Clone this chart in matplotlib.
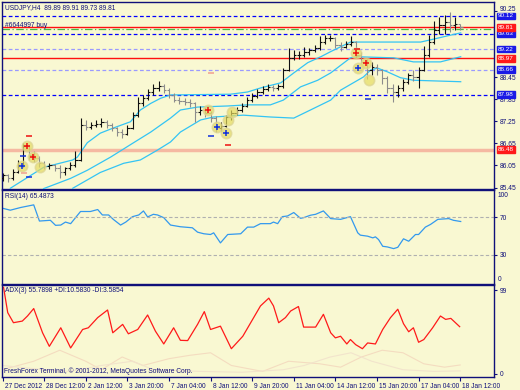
import numpy as np
import matplotlib
matplotlib.use("Agg")
import matplotlib.pyplot as plt
import matplotlib.transforms as mtransforms

plt.rcParams['font.family'] = ['Liberation Sans', 'DejaVu Sans']

# ---- price bars (USDJPY H4), one per 4h bar ----
opens = [85.70, 85.78, 85.70, 85.88, 86.06, 86.58, 86.33, 86.25, 86.11, 86.03,
         86.06, 85.97, 85.86, 85.97, 86.06, 86.20, 87.15, 87.10, 87.15, 87.18,
         87.23, 87.15, 87.07, 86.96, 86.90, 87.07, 87.42, 87.74, 87.88, 88.05,
         88.16, 88.21, 88.10, 87.96, 87.83, 87.80, 87.77, 87.74, 87.50, 87.56,
         87.48, 87.35, 87.07, 87.13, 87.37, 87.48, 87.56, 87.67, 87.83, 87.94,
         88.05, 88.13, 88.19, 88.16, 88.21, 88.65, 88.98, 89.06, 89.06, 89.15,
         89.20, 89.25, 89.41, 89.52, 89.52, 89.33, 89.28, 89.36, 89.41, 89.06,
         88.87, 88.65, 88.73, 88.65, 88.43, 88.16, 88.05, 88.16, 88.32, 88.51,
         88.45, 88.65, 89.06, 89.41, 89.74, 89.87, 89.96, 89.87, 89.89]
highs = [85.85, 85.82, 85.95, 86.20, 86.66, 86.62, 86.45, 86.30, 86.18, 86.12,
         86.10, 86.05, 86.02, 86.15, 86.45, 87.33, 87.29, 87.24, 87.30, 87.33,
         87.28, 87.21, 87.11, 87.04, 87.14, 87.50, 87.92, 87.97, 88.12, 88.27,
         88.35, 88.27, 88.15, 88.02, 87.92, 87.89, 87.85, 87.79, 87.68, 87.64,
         87.53, 87.41, 87.24, 87.43, 87.56, 87.64, 87.75, 87.92, 88.02, 88.12,
         88.22, 88.27, 88.25, 88.27, 88.71, 89.26, 89.18, 89.16, 89.28, 89.26,
         89.33, 89.57, 89.61, 89.59, 89.55, 89.40, 89.43, 89.57, 89.45, 89.14,
         88.96, 88.86, 88.81, 88.68, 88.48, 88.27, 88.25, 88.41, 88.58, 88.66,
         88.73, 89.30, 89.60, 89.99, 90.09, 90.14, 90.22, 90.09, 89.91]
lows = [85.62, 85.60, 85.66, 85.84, 86.00, 86.20, 86.15, 86.02, 85.96, 85.95,
        85.90, 85.70, 85.80, 85.92, 86.00, 86.18, 87.01, 87.04, 87.09, 87.11,
        87.07, 86.99, 86.84, 86.81, 86.87, 87.04, 87.38, 87.67, 87.82, 87.97,
        88.09, 88.02, 87.89, 87.77, 87.72, 87.69, 87.65, 87.23, 87.43, 87.38,
        87.24, 86.97, 86.99, 87.09, 87.30, 87.42, 87.50, 87.63, 87.77, 87.89,
        87.99, 88.07, 88.09, 88.11, 88.17, 88.61, 88.91, 88.94, 89.01, 89.06,
        89.14, 89.20, 89.35, 89.43, 89.25, 89.16, 89.24, 89.30, 88.98, 88.81,
        88.41, 88.51, 88.51, 88.26, 88.02, 87.77, 87.92, 88.07, 88.26, 88.36,
        88.15, 88.61, 89.01, 89.35, 89.64, 89.64, 89.69, 89.74, 89.73]
closes = [85.78, 85.70, 85.88, 86.06, 86.58, 86.33, 86.25, 86.11, 86.03, 86.06,
          85.97, 85.86, 85.97, 86.06, 86.20, 87.15, 87.10, 87.15, 87.18, 87.23,
          87.15, 87.07, 86.96, 86.90, 87.07, 87.42, 87.74, 87.88, 88.05, 88.16,
          88.21, 88.10, 87.96, 87.83, 87.80, 87.77, 87.74, 87.50, 87.56, 87.48,
          87.35, 87.07, 87.13, 87.37, 87.48, 87.56, 87.67, 87.83, 87.94, 88.05,
          88.13, 88.19, 88.16, 88.21, 88.65, 88.98, 89.06, 89.06, 89.15, 89.20,
          89.25, 89.41, 89.52, 89.52, 89.33, 89.28, 89.36, 89.41, 89.06, 88.87,
          88.65, 88.73, 88.65, 88.43, 88.16, 88.05, 88.16, 88.32, 88.51, 88.45,
          88.65, 89.06, 89.41, 89.74, 89.87, 89.96, 89.87, 89.89, 89.81]

# ---- three cyan indicator lines (bar index, price) ----
fast_x = [1.5, 7.9, 13.5, 14.4, 16.3, 18.8, 21.3, 24.6, 26.5, 28.5, 30.4, 32.3, 43.8,
          47.1, 49.6, 53.5, 56.0, 58.7, 61.2, 63.1, 66.9, 80.4, 82.3, 85.6, 88.1]
fast_y = [85.43, 86.00, 86.20, 86.28, 86.67, 86.93, 87.07, 87.24, 87.56, 87.74, 87.88,
          87.97, 87.99, 88.05, 88.16, 88.30, 88.57, 88.85, 89.01, 89.15, 89.41, 89.41,
          89.47, 89.58, 89.66]
mid_x = [7.9, 13.1, 16.3, 20.8, 25.2, 28.5, 30.4, 32.3, 34.2, 37.5, 43.3, 47.1, 51.5,
         54.0, 57.3, 60.6, 63.1, 66.9, 68.3, 75.2, 79.0, 84.2, 88.1]
mid_y = [85.42, 85.70, 85.92, 86.28, 86.67, 86.96, 87.15, 87.34, 87.56, 87.64, 87.67,
         87.70, 87.70, 87.83, 88.19, 88.37, 88.57, 88.98, 89.01, 88.98, 88.87, 88.87, 89.01]
slow_x = [13.5, 18.8, 23.3, 26.5, 29.8, 32.3, 34.2, 38.1, 40.6, 46.3, 51.5, 56.0, 59.2,
          63.1, 65.0, 69.4, 70.8, 72.1, 74.0, 76.5, 79.0, 88.1]
slow_y = [85.43, 85.86, 86.11, 86.20, 86.47, 86.69, 86.96, 87.29, 87.37, 87.42, 87.37,
          87.34, 87.56, 87.83, 88.10, 88.46, 88.65, 88.70, 88.60, 88.44, 88.37, 88.33]

# ---- horizontal levels ----
level_prices = [90.12, 89.63, 89.22, 88.66, 87.98]
level_colors = ['#0000ff', '#0000ff', '#9a9aff', '#9a9aff', '#0000ff']
red_levels = [89.81, 88.97]
order_price = 89.76
support_price = 86.48

# ---- signal icons ----
circle_x = [4.8, 5.8, 3.7, 7.3, 39.6, 41.3, 42.9, 43.3, 44.2, 67.9, 68.3, 69.8, 70.4]
circle_y = [86.58, 86.28, 86.03, 86.01, 87.56, 87.10, 86.93, 87.29, 87.50, 89.11, 88.70, 88.84, 88.38]
cross_red_x = [4.8, 5.8, 39.6, 67.9, 69.8]
cross_red_y = [86.58, 86.28, 87.56, 89.11, 88.84]
cross_blue_x = [3.7, 41.3, 42.9, 68.3]
cross_blue_y = [86.03, 87.10, 86.93, 88.70]
dash_red_x = [5.0, 43.3, 68.1]
dash_red_y = [86.85, 86.60, 89.22]
dash_blue_x = [4.0, 5.0, 40.0, 70.2]
dash_blue_y = [86.31, 85.73, 86.85, 87.86]
dash_pale_x = [4.2, 40.0]
dash_pale_y = [85.84, 88.57]

# ---- RSI(14) ----
rsi_x = [0.0, 1.5, 3.5, 6.0, 7.1, 9.2, 10.2, 11.2, 12.1, 13.1, 15.0, 16.9, 18.3, 19.2,
         20.4, 21.3, 22.7, 23.7, 25.0, 26.2, 27.1, 27.9, 29.0, 29.8, 31.0, 32.3, 34.2,
         36.5, 37.5, 38.7, 40.0, 40.6, 41.9, 43.3, 45.8, 47.1, 48.3, 49.6, 51.5, 52.1,
         52.9, 53.8, 54.8, 56.0, 57.3, 57.9, 59.2, 60.2, 61.7, 63.1, 65.0, 66.9, 68.3,
         68.8, 70.2, 71.2, 71.7, 72.3, 73.1, 74.0, 75.2, 76.0, 77.1, 78.1, 79.4, 80.0,
         81.3, 82.3, 83.7, 85.8, 86.7, 88.1]
rsi_v = [79.7, 77.6, 80.5, 83.3, 66.0, 66.8, 61.4, 61.7, 64.9, 63.2, 76.2, 76.2, 78.3,
         72.5, 72.5, 67.8, 61.7, 64.9, 70.7, 72.5, 76.8, 70.4, 73.2, 72.5, 69.6, 61.7,
         59.9, 58.8, 54.1, 52.4, 51.6, 53.4, 42.6, 51.6, 52.4, 59.5, 59.5, 63.2, 63.2,
         64.9, 63.2, 70.7, 71.4, 75.1, 68.9, 69.6, 72.2, 73.2, 76.8, 68.6, 67.8, 70.7,
         53.4, 50.9, 49.8, 48.0, 49.1, 46.2, 39.0, 38.3, 36.5, 37.9, 47.0, 44.4, 51.6,
         51.6, 59.5, 62.4, 67.8, 68.6, 66.8, 65.5]

# ---- ADX(3) with +DI / -DI ----
adx_x = [0.2, 1.0, 2.1, 3.8, 4.8, 6.0, 7.7, 9.0, 11.2, 13.1, 15.4, 16.5, 18.3, 20.2,
         21.2, 23.1, 24.2, 26.0, 27.9, 29.4, 31.0, 32.9, 34.2, 35.6, 37.5, 38.8, 40.0,
         41.9, 44.0, 46.2, 49.6, 51.2, 52.1, 53.1, 54.4, 55.4, 56.9, 57.9, 60.2, 61.7,
         63.1, 64.0, 65.0, 66.2, 66.9, 67.9, 69.2, 70.2, 71.7, 73.1, 74.6, 76.0, 77.1,
         78.1, 79.0, 80.0, 81.0, 82.7, 84.2, 85.2, 86.2, 87.9]
adx_v = [102.3, 72.4, 60.5, 62.4, 68.4, 77.2, 48.6, 32.6, 54.5, 30.7, 52.5, 54.5, 66.5,
         75.5, 48.6, 58.5, 47.4, 52.5, 69.6, 50.5, 35.4, 54.5, 39.7, 39.4, 58.5, 73.6,
         52.5, 56.4, 29.8, 44.5, 80.3, 89.5, 80.3, 60.5, 66.5, 74.3, 79.6, 55.3, 55.3,
         70.4, 48.6, 42.6, 44.5, 35.4, 40.6, 34.6, 29.8, 36.6, 35.4, 52.5, 66.5, 76.4,
         59.3, 49.8, 54.5, 37.4, 40.6, 54.5, 68.4, 64.4, 65.6, 55.8]
pdi_x = [0, 6, 11, 16, 19, 23, 27, 32, 36, 40, 44, 50, 55, 61, 65, 69, 73, 77, 81, 85, 88]
pdi_v = [5, 15, 28, 15, 5, 20, 10, 18, 22, 25, 10, 3, 15, 12, 8, 20, 28, 25, 12, 8, 10.6]
mdi_x = [0, 8, 13, 19, 25, 29, 38, 46, 54, 58, 63, 67, 71, 77, 83, 88]
mdi_v = [10, 5, 3, 10, 15, 5, 3, 2, 5, 10, 20, 25, 15, 5, 3, 3.6]

time_labels = ['27 Dec 2012', '28 Dec 12:00', '2 Jan 12:00', '3 Jan 20:00', '7 Jan 04:00',
               '8 Jan 12:00', '9 Jan 20:00', '11 Jan 04:00', '14 Jan 12:00', '15 Jan 20:00',
               '17 Jan 04:00', '18 Jan 12:00']

BG = '#f9f8d2'
NAVY = '#10107a'
FS = 4.8
BOX_FS = 4.6


def px(l, t, r, b):
    return [l / 520, 1 - b / 390, (r - l) / 520, (b - t) / 390]


fig = plt.figure(figsize=(5.2, 3.9), dpi=100, facecolor=BG)
ax = fig.add_axes(px(2, 2, 494, 189), facecolor=BG)
ax_rsi = fig.add_axes(px(2, 190, 494, 284), facecolor=BG, sharex=ax)
ax_adx = fig.add_axes(px(2, 285, 494, 377), facecolor=BG, sharex=ax)

for a in (ax, ax_rsi, ax_adx):
    for s in a.spines.values():
        s.set_color(NAVY)
        s.set_linewidth(1.0)
    a.yaxis.tick_right()
    a.tick_params(axis='y', direction='out', length=2.5, width=0.8, colors=NAVY,
                  labelsize=FS, pad=1.5, labelcolor=NAVY)
    a.tick_params(axis='x', length=0, labelbottom=False)
    a.set_xlim(-0.1, 94.5)

# price panel
idx = np.arange(len(closes))
o = np.array(opens)
c = np.array(closes)
bar_col = np.where(c >= o, '#101010', '#8c8c8c')
ax.vlines(idx, lows, highs, colors=bar_col, lw=0.8, zorder=4)
ax.hlines(opens, idx - 0.45, idx, colors=bar_col, lw=0.8, zorder=4)
ax.hlines(closes, idx, idx + 0.45, colors=bar_col, lw=0.8, zorder=4)

for xs, ys in ((fast_x, fast_y), (mid_x, mid_y), (slow_x, slow_y)):
    ax.plot(xs, ys, color='#33c4f4', lw=0.9, zorder=3)

for p, col in zip(level_prices, level_colors):
    ax.axhline(p, color=col, lw=0.9, ls=(0, (3, 2)), zorder=2)
for p in red_levels:
    ax.axhline(p, color='#ff1010', lw=1.0, zorder=2)
ax.axhline(order_price, color='#44bb44', lw=0.9, ls=(0, (6, 2, 1, 2)), zorder=2)
ax.axhline(support_price, color='#f5b9a2', lw=2.5, zorder=1)

ax.scatter(circle_x, circle_y, s=55, color='#e6dc60', alpha=0.7, edgecolors='#dcd490',
           linewidths=1.2, zorder=5)
ax.scatter(cross_red_x, cross_red_y, s=14, marker='+', color='#ee1010', linewidths=1.1, zorder=6)
ax.scatter(cross_blue_x, cross_blue_y, s=14, marker='+', color='#1030dd', linewidths=1.1, zorder=6)
ax.scatter(dash_red_x, dash_red_y, s=16, marker='_', color='#ee1010', linewidths=1.1, zorder=6)
ax.scatter(dash_blue_x, dash_blue_y, s=16, marker='_', color='#1030dd', linewidths=1.1, zorder=6)
ax.scatter(dash_pale_x, dash_pale_y, s=16, marker='_', color='#f0a090', linewidths=1.1, zorder=6)

ax.set_ylim(85.41, 90.50)
ax.set_yticks([90.25, 88.45, 87.85, 87.25, 86.65, 86.05, 85.45])
ax.set_yticklabels(['90.25', '88.45', '87.85', '87.25', '86.65', '86.05', '85.45'])
# top label sits just above the 90.12 marker box
up = mtransforms.ScaledTranslation(0, 3 / 100, fig.dpi_scale_trans)
top_lbl = ax.get_yticklabels()[0]
top_lbl.set_transform(top_lbl.get_transform() + up)

tr = mtransforms.blended_transform_factory(ax.transAxes, ax.transData)
for p in level_prices:
    ax.text(1.008, p, f'{p:.2f}', transform=tr, color='white', fontsize=BOX_FS, va='center',
            ha='left', clip_on=False, zorder=10,
            bbox=dict(boxstyle='square,pad=0.15', fc='#1a1ae6', ec='#1a1ae6'))
for p in red_levels + [support_price]:
    ax.text(1.008, p, f'{p:.2f}', transform=tr, color='white', fontsize=BOX_FS, va='center',
            ha='left', clip_on=False, zorder=10,
            bbox=dict(boxstyle='square,pad=0.15', fc='#ff1a1a', ec='#ff1a1a'))

ax.text(0.007, 0.973, 'USDJPY,H4  89.89 89.91 89.73 89.81', transform=ax.transAxes,
        fontsize=FS, color=NAVY, va='center', ha='left')
ax.text(0.007, 0.872, '#6644997 buy', transform=ax.transAxes, fontsize=FS, color=NAVY,
        va='center', ha='left')

# RSI panel
ax_rsi.plot(rsi_x, rsi_v, color='#3399ee', lw=0.9)
ax_rsi.axhline(70, color='#b0b0b0', lw=0.8, ls=(0, (3, 2)))
ax_rsi.axhline(30, color='#b0b0b0', lw=0.8, ls=(0, (3, 2)))
ax_rsi.set_ylim(-1.35, 99.2)
ax_rsi.set_yticks([70, 30])
ax_rsi.set_yticklabels(['70', '30'])
ax_rsi.text(1.008, 0.946, '100', transform=ax_rsi.transAxes, fontsize=FS, color=NAVY, va='center')
ax_rsi.text(1.008, 0.043, '0', transform=ax_rsi.transAxes, fontsize=FS, color=NAVY, va='center')
ax_rsi.text(0.007, 0.935, 'RSI(14) 65.4873', transform=ax_rsi.transAxes, fontsize=FS,
            color=NAVY, va='center', ha='left')

# ADX panel
ax_adx.plot(pdi_x, pdi_v, color='#f4dcc0', lw=0.8)
ax_adx.plot(mdi_x, mdi_v, color='#f2e4cc', lw=0.8)
ax_adx.plot(adx_x, adx_v, color='#ff1a1a', lw=0.9)
ax_adx.set_ylim(-3.6, 105)
ax_adx.set_yticks([99, 0])
ax_adx.set_yticklabels(['99', '0'])
ax_adx.text(0.007, 0.935, 'ADX(3) 55.7898 +DI:10.5830 -DI:3.5854', transform=ax_adx.transAxes,
            fontsize=FS, color=NAVY, va='center', ha='left')
ax_adx.text(0.004, 0.06, 'FreshForex Terminal, \u00a9 2001-2012, MetaQuotes Software Corp.',
            transform=ax_adx.transAxes, fontsize=FS, color=NAVY, va='center', ha='left')

ax_adx.set_xticks(np.arange(0, 89, 8))
ax_adx.set_xticklabels(time_labels)
ax_adx.tick_params(axis='x', direction='out', length=3, width=0.8, colors=NAVY,
                   labelsize=FS, labelbottom=True, pad=1)
shift = mtransforms.ScaledTranslation(2 / 100, 0, fig.dpi_scale_trans)
for lbl in ax_adx.get_xticklabels():
    lbl.set_ha('left')
    lbl.set_transform(lbl.get_transform() + shift)

fig.savefig('out.png', dpi=100, facecolor=BG)
